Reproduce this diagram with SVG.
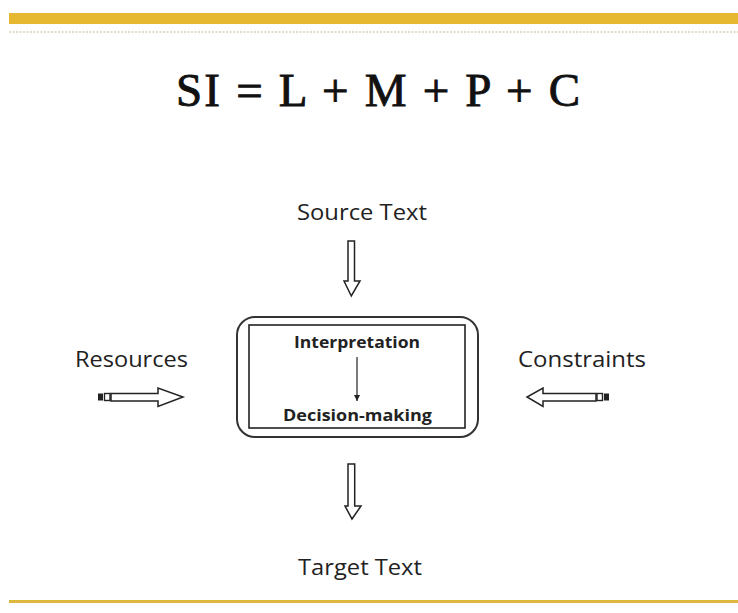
<svg xmlns="http://www.w3.org/2000/svg" width="738" height="613" viewBox="0 0 738 613">
  <style>
    .lbl { font-family: "Open Sans", "Liberation Sans", sans-serif; font-size: 22px; fill: #222; }
    .inner { font-family: "Open Sans", "Liberation Sans", sans-serif; font-size: 16.5px; font-weight: bold; fill: #222; }
    .formula { font-family: "Liberation Serif", "DejaVu Serif", serif; font-size: 47px; fill: #111; stroke: #111; stroke-width: 0.9; }
    .hollow { fill: #fff; stroke: #222; stroke-width: 1.5; stroke-linejoin: miter; }
  </style>
  <defs>
    <marker id="tip" viewBox="0 0 10 10" refX="10" refY="5" markerWidth="6" markerHeight="6" orient="auto" markerUnits="userSpaceOnUse">
      <path d="M0,0 L10,5 L0,10 Z" fill="#222"/>
    </marker>
  </defs>

  <rect width="738" height="613" fill="#fff"/>

  <!-- slide frame -->
  <rect x="9" y="13" width="729" height="11" fill="#e6b832"/>
  <line x1="9" y1="32" x2="738" y2="32" stroke="#c8b88a" stroke-width="1.2" stroke-dasharray="2 1.5"/>
  <rect x="9" y="600" width="729" height="3" fill="#dcb83e"/>

  <text class="formula" x="176" y="106" textLength="404" lengthAdjust="spacing">SI = L + M + P + C</text>

  <g id="source-text"><text class="lbl" x="297" y="220" textLength="130" lengthAdjust="spacingAndGlyphs">Source Text</text></g>
  <g id="target-text"><text class="lbl" x="298" y="575" textLength="124" lengthAdjust="spacingAndGlyphs">Target Text</text></g>
  <g id="resources"><text class="lbl" x="75" y="367" textLength="113" lengthAdjust="spacingAndGlyphs">Resources</text></g>
  <g id="constraints"><text class="lbl" x="518" y="367" textLength="128" lengthAdjust="spacingAndGlyphs">Constraints</text></g>

  <g id="process">
    <rect x="237" y="317" width="241" height="120" rx="18" ry="18" fill="#fff" stroke="#333" stroke-width="2"/>
    <rect x="249" y="325" width="216" height="103" fill="#fff" stroke="#222" stroke-width="1.6"/>
    <text class="inner" x="294" y="348" textLength="126" lengthAdjust="spacingAndGlyphs">Interpretation</text>
    <line x1="357" y1="357" x2="357" y2="401" stroke="#333" stroke-width="1.3" marker-end="url(#tip)"/>
    <text class="inner" x="283" y="421" textLength="149" lengthAdjust="spacingAndGlyphs">Decision-making</text>
  </g>

  <g id="connectors">
    <!-- Source Text -> process -->
    <path class="hollow" d="M348,241 H354.5 V281 H360 L351.3,296 L344,281 H348 Z"/>
    <!-- process -> Target Text -->
    <path class="hollow" d="M348,464 H354.7 V506 H361 L352,519 L345,506 H348 Z"/>
    <!-- Resources -> process -->
    <rect x="98" y="393.5" width="5" height="7" fill="#222"/>
    <rect x="104.5" y="393.5" width="5.5" height="7" fill="#fff" stroke="#222" stroke-width="1.4"/>
    <path class="hollow" d="M111,393.5 H158 V388 L183,397 L158,406.5 V401 H111 Z"/>
    <!-- Constraints -> process -->
    <rect x="604" y="393.5" width="5" height="7" fill="#222"/>
    <rect x="597" y="393.5" width="5.5" height="7" fill="#fff" stroke="#222" stroke-width="1.4"/>
    <path class="hollow" d="M596,393.5 H543 V388 L527,397 L543,406.5 V401 H596 Z"/>
  </g>
</svg>
